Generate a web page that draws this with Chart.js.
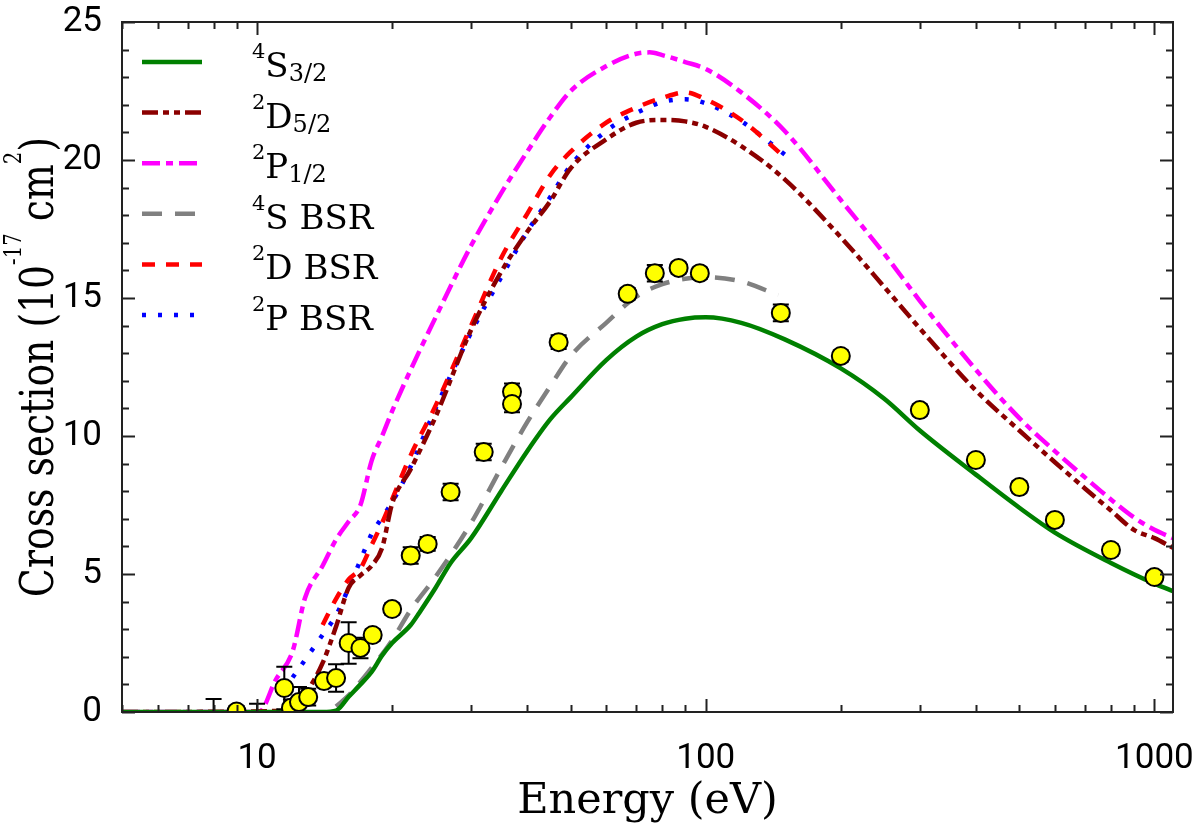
<!DOCTYPE html>
<html>
<head>
<meta charset="utf-8">
<script src="https://cdn.jsdelivr.net/npm/chart.js@4.4.1/dist/chart.umd.min.js"></script>
<style>
  html, body { margin: 0; padding: 0; background: #fff; }
  #wrap { width: 1200px; height: 838px; }
</style>
</head>
<body>
<div id="wrap"><canvas id="myChart" width="1200" height="838"></canvas></div>
<script>
// axis ranges and tick labels
const xMin = 5, xMax = 1100;
const yMin = 0, yMax = 25;
const xTickValues = [10, 100, 1000];
const xTickLabels = ['10', '100', '1000'];

// measured cross sections (yellow circles)
const expEnergy = [8, 9, 10, 11.5, 11.9, 12.4, 13.0, 14.1, 15.0, 16.0, 17.0, 18.1, 20, 22, 24, 27, 32, 37, 37, 47, 67, 77, 87, 97, 147, 200, 300, 400, 500, 600, 800, 1000];
const expCross = [-0.5, 0.02, -0.5, 0.87, 0.15, 0.36, 0.54, 1.12, 1.23, 2.5, 2.32, 2.79, 3.73, 5.67, 6.09, 7.97, 9.42, 11.6, 11.16, 13.4, 15.15, 15.9, 16.09, 15.9, 14.46, 12.9, 10.94, 9.13, 8.15, 6.96, 5.87, 4.89];
const expError = [0.97, 0.2, 0.8, 0.77, 0.3, 0.55, 0.3, 0.2, 0.5, 0.75, 0.37, 0.2, 0.2, 0.3, 0.25, 0.3, 0.3, 0.3, 0.3, 0.25, 0.2, 0.3, 0.2, 0.2, 0.3, 0.2, 0.2, 0.2, 0.2, 0.2, 0.2, 0.2];

// 4S3/2
const s32Energy = [5, 14, 15, 16, 17, 18, 19, 20, 22, 23, 25, 27, 30, 35, 40, 45, 50, 60, 70, 80, 90, 100, 120, 150, 200, 250, 300, 400, 500, 600, 800, 1000, 1100];
const s32Cross = [0, 0, 0.05, 0.55, 1.0, 1.45, 2.05, 2.5, 3.15, 3.6, 4.5, 5.4, 6.3, 8.0, 9.45, 10.6, 11.4, 12.75, 13.6, 14.05, 14.25, 14.3, 14.1, 13.5, 12.45, 11.35, 10.2, 8.6, 7.4, 6.5, 5.4, 4.65, 4.38];

// 2D5/2
const d52Energy = [5, 12, 13, 14, 15, 16, 17, 18, 19, 20, 22, 25, 30, 35, 40, 45, 50, 60, 70, 80, 90, 100, 120, 150, 200, 250, 300, 400, 500, 600, 700, 800, 900, 1000, 1100];
const d52Cross = [0, 0.05, 0.8, 1.78, 3.1, 4.5, 4.95, 5.3, 5.95, 7.55, 8.8, 10.7, 13.85, 15.95, 17.4, 18.5, 19.7, 20.75, 21.35, 21.45, 21.4, 21.2, 20.5, 19.3, 17.2, 15.4, 13.9, 11.65, 10.2, 9.05, 8.1, 7.3, 6.6, 6.3, 5.95];

// 2P1/2
const p12Energy = [5, 10.1, 11, 12, 12.8, 14, 15, 16, 17, 18, 19, 20, 22, 25, 30, 35, 40, 45, 50, 60, 70, 75, 80, 90, 100, 120, 150, 200, 250, 300, 400, 500, 600, 700, 800, 900, 1000, 1100];
const p12Cross = [0, 0, 1.16, 2.2, 4.15, 5.3, 6.25, 6.9, 7.5, 9.1, 10.0, 10.9, 12.4, 14.3, 16.9, 18.8, 20.3, 21.55, 22.5, 23.4, 23.85, 23.9, 23.8, 23.55, 23.3, 22.45, 21.05, 18.55, 16.6, 14.9, 12.4, 10.65, 9.45, 8.5, 7.7, 7.05, 6.6, 6.3];

// BSR results
const sBsrEnergy = [15, 16, 17, 18, 20, 22, 25, 30, 35, 40, 45, 50, 60, 70, 80, 90, 100, 120, 145];
const sBsrCross = [0.2, 0.6, 1.1, 1.6, 2.6, 3.7, 4.9, 6.85, 8.85, 10.5, 11.8, 12.9, 14.1, 15.05, 15.5, 15.7, 15.75, 15.6, 15.1];
const dBsrEnergy = [14, 15, 16, 17, 18, 19, 20, 22, 25, 30, 35, 40, 45, 50, 60, 70, 80, 90, 100, 120, 150];
const dBsrCross = [3.15, 4.1, 4.8, 5.2, 6.05, 6.85, 7.7, 9.3, 11.1, 14.0, 16.45, 18.05, 19.45, 20.3, 21.35, 21.9, 22.25, 22.45, 22.2, 21.45, 20.1];
const pBsrEnergy = [12, 13, 14, 15, 16, 17, 18, 19, 20, 22, 25, 30, 35, 40, 45, 50, 60, 70, 80, 90, 100, 120, 150];
const pBsrCross = [1.25, 2.05, 2.8, 3.5, 4.5, 5.5, 6.45, 7.05, 7.6, 8.9, 11.0, 13.75, 15.75, 17.4, 18.65, 19.8, 21.05, 21.7, 22.1, 22.2, 22.05, 21.4, 20.2];

const pts = (xs, ys) => xs.map((v, i) => ({ x: v, y: ys[i] }));

const serif = '"DejaVu Serif", serif';
const tickFont = 'Roboto, sans-serif';

// legend entries: superscript, main text, subscript
const legendItems = [
  { sup: '4', main: 'S', sub: '3/2', color: '#008000', dash: [] },
  { sup: '2', main: 'D', sub: '5/2', color: '#8b0000', dash: [16, 5, 6, 5, 6, 5] },
  { sup: '2', main: 'P', sub: '1/2', color: '#ff00ff', dash: [18, 6, 7, 6] },
  { sup: '4', main: 'S BSR', sub: '', color: '#808080', dash: [20, 13] },
  { sup: '2', main: 'D BSR', sub: '', color: '#ff0000', dash: [13, 11] },
  { sup: '2', main: 'P BSR', sub: '', color: '#0000ff', dash: [4, 12] }
];

function curve(xs, ys, item) {
  return {
    data: pts(xs, ys),
    showLine: true,
    borderColor: item.color,
    borderWidth: 4.5,
    borderDash: item.dash,
    pointRadius: 0,
    fill: false,
    cubicInterpolationMode: 'monotone'
  };
}

function drawRich(ctx, parts, x, y) {
  let cx = x;
  parts.forEach(p => {
    ctx.font = p.size + 'px ' + serif;
    ctx.fillText(p.t, cx, y + p.dy);
    cx += ctx.measureText(p.t).width;
  });
  return cx - x;
}
function richWidth(ctx, parts) {
  let w = 0;
  parts.forEach(p => { ctx.font = p.size + 'px ' + serif; w += ctx.measureText(p.t).width; });
  return w;
}

// error bars under the circles
const errorBars = {
  id: 'errorBars',
  beforeDatasetDraw(chart, args) {
    if (args.index !== 0) return;
    const { ctx, chartArea: a, scales: { x, y } } = chart;
    ctx.save();
    ctx.beginPath();
    ctx.rect(a.left, a.top, a.width, a.height);
    ctx.clip();
    ctx.strokeStyle = '#000';
    ctx.lineWidth = 2;
    expEnergy.forEach((e, i) => {
      const px = x.getPixelForValue(e);
      const lo = y.getPixelForValue(expCross[i] - expError[i]);
      const hi = y.getPixelForValue(expCross[i] + expError[i]);
      ctx.beginPath();
      ctx.moveTo(px, lo); ctx.lineTo(px, hi);
      ctx.moveTo(px - 8, lo); ctx.lineTo(px + 8, lo);
      ctx.moveTo(px - 8, hi); ctx.lineTo(px + 8, hi);
      ctx.stroke();
    });
    ctx.restore();
  }
};

// frame, inward ticks, legend and y title
const decorations = {
  id: 'decorations',
  afterDraw(chart) {
    const { ctx, chartArea: a, scales: { x, y } } = chart;
    ctx.save();
    ctx.strokeStyle = '#222';
    ctx.lineWidth = 2;
    ctx.beginPath();
    for (let d = 1; d <= 1000; d *= 10) {
      for (let m = 1; m < 10; m++) {
        const v = d * m;
        if (v < xMin || v > xMax) continue;
        const px = Math.round(x.getPixelForValue(v)) + 0.5;
        const len = m === 1 ? 13 : 7;
        ctx.moveTo(px, a.bottom); ctx.lineTo(px, a.bottom - len);
        ctx.moveTo(px, a.top); ctx.lineTo(px, a.top + len);
      }
    }
    for (let v = yMin; v <= yMax; v++) {
      const py = Math.round(y.getPixelForValue(v)) + 0.5;
      const len = v % 5 === 0 ? 13 : 7;
      ctx.moveTo(a.left, py); ctx.lineTo(a.left + len, py);
      ctx.moveTo(a.right, py); ctx.lineTo(a.right - len, py);
    }
    ctx.stroke();
    ctx.strokeRect(a.left, a.top, a.right - a.left, a.bottom - a.top);

    // legend
    ctx.fillStyle = '#000';
    ctx.textBaseline = 'alphabetic';
    ctx.textAlign = 'left';
    legendItems.forEach((it, i) => {
      const ly = 62 + i * 50.6;
      ctx.beginPath();
      ctx.strokeStyle = it.color;
      ctx.lineWidth = 4.5;
      ctx.setLineDash(it.dash);
      ctx.moveTo(142, ly); ctx.lineTo(202, ly);
      ctx.stroke();
      ctx.setLineDash([]);
      drawRich(ctx, [
        { t: it.sup, size: 21, dy: -4 },
        { t: it.main, size: 34, dy: 15 },
        { t: it.sub, size: 24, dy: 19 }
      ], 252, ly);
    });

    // y axis title, a little condensed like the original slab font
    const parts = [
      { t: 'Cross section (10', size: 46, dy: 0 },
      { t: '-17', size: 24, dy: -32 },
      { t: ' cm', size: 46, dy: 0 },
      { t: '2', size: 24, dy: -32 },
      { t: ')', size: 46, dy: 0 }
    ];
    const w = richWidth(ctx, parts);
    ctx.translate(53, (a.top + a.bottom) / 2);
    ctx.rotate(-Math.PI / 2);
    ctx.scale(0.82, 1);
    drawRich(ctx, parts, -w / 2, 0);
    ctx.restore();
  }
};

new Chart(document.getElementById('myChart'), {
  type: 'scatter',
  data: {
    datasets: [
      {
        data: pts(expEnergy, expCross),
        pointRadius: 9,
        pointBackgroundColor: '#ffff00',
        pointBorderColor: '#000',
        pointBorderWidth: 2,
        showLine: false
      },
      curve(s32Energy, s32Cross, legendItems[0]),
      curve(d52Energy, d52Cross, legendItems[1]),
      curve(p12Energy, p12Cross, legendItems[2]),
      curve(sBsrEnergy, sBsrCross, legendItems[3]),
      curve(dBsrEnergy, dBsrCross, legendItems[4]),
      curve(pBsrEnergy, pBsrCross, legendItems[5])
    ]
  },
  options: {
    responsive: false,
    animation: false,
    devicePixelRatio: 1,
    layout: { padding: { top: 22, right: 27, left: 0, bottom: 0 } },
    plugins: { legend: { display: false }, tooltip: { enabled: false } },
    scales: {
      x: {
        type: 'logarithmic',
        min: xMin,
        max: xMax,
        grid: { display: false },
        border: { display: false },
        afterBuildTicks: s => { s.ticks = xTickValues.map(v => ({ value: v })); },
        afterFit: s => { s.height = 126; s.paddingLeft = 0; s.paddingRight = 0; },
        ticks: {
          autoSkip: false,
          maxRotation: 0,
          padding: 18,
          color: '#000',
          font: { family: tickFont, size: 35 },
          callback: (v, i) => xTickLabels[i]
        },
        title: {
          display: true,
          text: 'Energy (eV)',
          color: '#000',
          font: { family: serif, size: 43 },
          padding: { top: 0, bottom: 10 }
        }
      },
      y: {
        min: yMin,
        max: yMax,
        grid: { display: false },
        border: { display: false },
        afterFit: s => { s.width = 122; s.paddingTop = 0; s.paddingBottom = 0; },
        ticks: {
          stepSize: 5,
          padding: 12,
          color: '#000',
          font: { family: tickFont, size: 35 }
        }
      }
    }
  },
  plugins: [errorBars, decorations]
});
</script>
</body>
</html>
